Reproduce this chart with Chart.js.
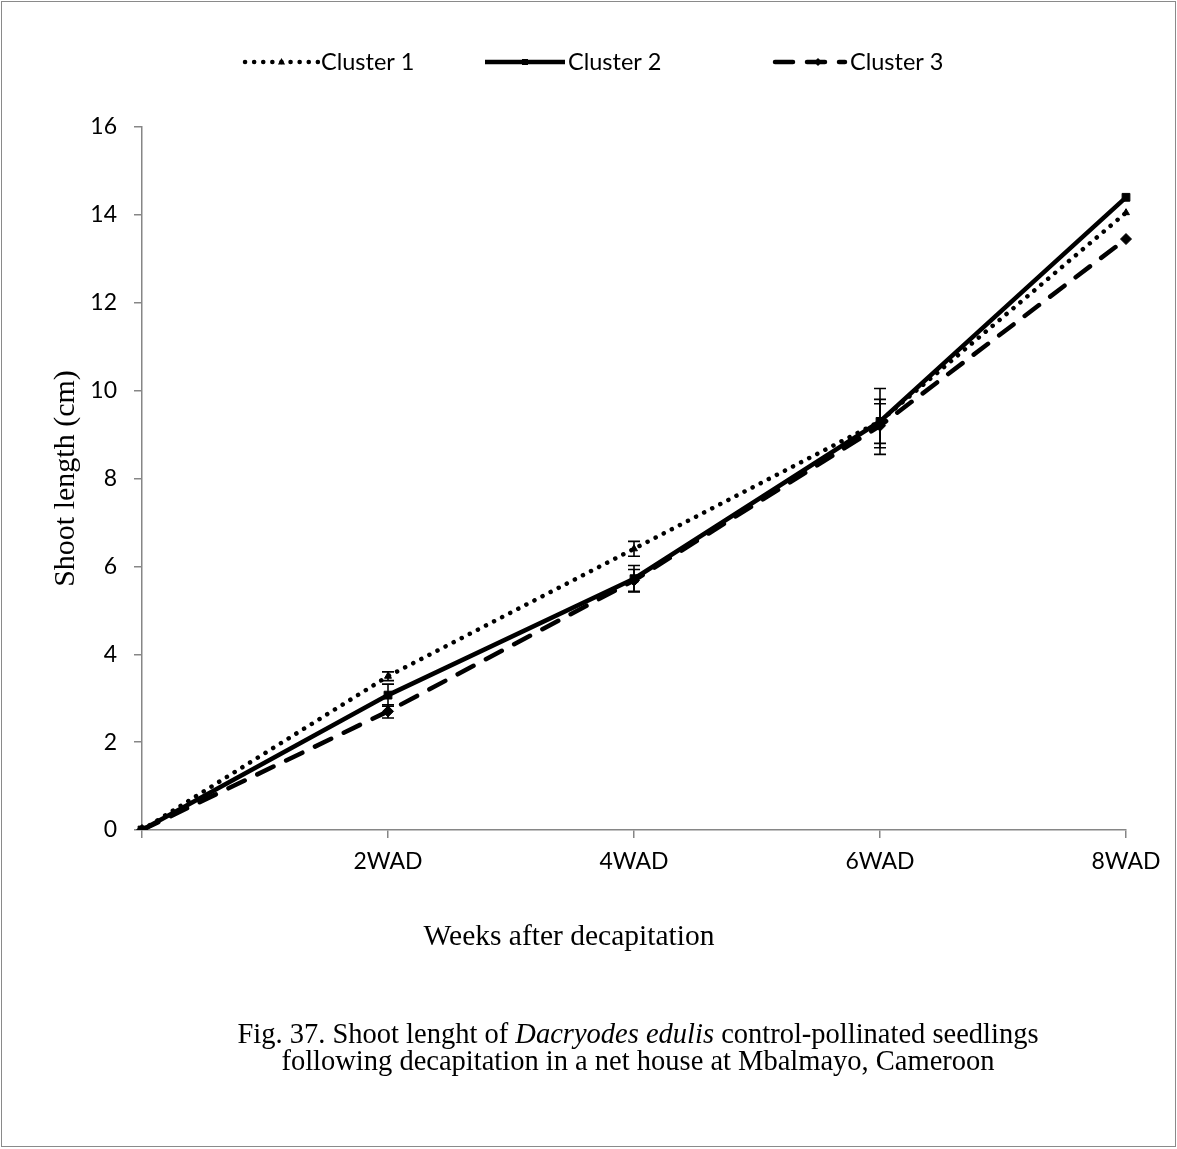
<!DOCTYPE html>
<html>
<head>
<meta charset="utf-8">
<script src="https://cdn.jsdelivr.net/npm/chart.js@4.4.1/dist/chart.umd.min.js"></script>
<style>
html,body{margin:0;padding:0;background:#fff;}
#wrap{position:relative;width:1177px;height:1149px;overflow:hidden;background:#fff;}
#frame{position:absolute;left:1px;top:1px;width:1175px;height:1146px;border:1.5px solid #8a8a8a;box-sizing:border-box;pointer-events:none;}
canvas{position:absolute;left:0;top:0;}
.t{position:absolute;font-family:"Liberation Serif","Times New Roman",serif;color:#000;white-space:nowrap;}
</style>
</head>
<body>
<div id="wrap">
  <canvas id="c" width="1177" height="1149"></canvas>
  <div id="frame"></div>
  <div class="t" id="xtitle" style="left:0;width:1138px;top:918px;text-align:center;font-size:29.5px;line-height:34px;">Weeks after decapitation</div>
  <div class="t" id="caption" style="left:0;width:1276px;top:1020px;text-align:center;font-size:28.5px;line-height:27px;">Fig. 37. Shoot lenght of <i>Dacryodes edulis</i> control-pollinated seedlings<br>following decapitation in a net house at Mbalmayo, Cameroon</div>
</div>
<script>
// ---- Data ----
const categories = ['', '2WAD', '4WAD', '6WAD', '8WAD'];
const seriesNames = ['Cluster 1', 'Cluster 2', 'Cluster 3'];
const cluster1 = [0, 3.5, 6.4, 9.3, 14.05];
const cluster2 = [0, 3.07, 5.72, 9.3, 14.4];
const cluster3 = [0, 2.7, 5.68, 9.2, 13.45];
const cluster1Err = [0, 0.1, 0.17, 0.75, 0];
const cluster2Err = [0, 0.25, 0.3, 0.5, 0];
const cluster3Err = [0, 0.15, 0.25, 0.5, 0];
const yTickValues = [0, 2, 4, 6, 8, 10, 12, 14, 16];
const axisTitleY = 'Shoot length (cm)';

const AXIS_GRAY = '#868686';
const TICK_FONT = {family: 'Lato, "Open Sans", sans-serif', size: 23};

// error bars drawn through the chart scales
const errorBars = {
  id: 'errorBars',
  afterDatasetsDraw(chart) {
    const {ctx, scales: {x, y}} = chart;
    ctx.save();
    ctx.strokeStyle = '#000';
    ctx.lineWidth = 1.6;
    chart.data.datasets.forEach(ds => {
      const errs = ds.errors || [];
      ds.data.forEach((v, j) => {
        const e = errs[j];
        if (!e) return;
        const px = x.getPixelForValue(j);
        const top = y.getPixelForValue(v + e);
        const bot = y.getPixelForValue(v - e);
        ctx.beginPath();
        ctx.moveTo(px, top); ctx.lineTo(px, bot);
        ctx.moveTo(px - 6, top); ctx.lineTo(px + 6, top);
        ctx.moveTo(px - 6, bot); ctx.lineTo(px + 6, bot);
        ctx.stroke();
      });
    });
    ctx.restore();
  }
};

function marker(ctx, style, cx, cy, r) {
  ctx.beginPath();
  if (style === 'triangle') {
    ctx.moveTo(cx, cy - r);
    ctx.lineTo(cx + r * 0.9, cy + r * 0.6);
    ctx.lineTo(cx - r * 0.9, cy + r * 0.6);
  } else if (style === 'rect') {
    ctx.rect(cx - r, cy - r, 2 * r, 2 * r);
  } else {
    ctx.moveTo(cx, cy - r); ctx.lineTo(cx + r, cy); ctx.lineTo(cx, cy + r); ctx.lineTo(cx - r, cy);
  }
  ctx.closePath();
  ctx.fill();
}

// legend drawn as line samples + text
const sampleLegend = {
  id: 'sampleLegend',
  afterDraw(chart) {
    const ctx = chart.ctx;
    const y0 = 62;
    const items = [
      {x0: 245, x1: 318, text: 321, ds: 0},
      {x0: 485, x1: 565, text: 568, ds: 1},
      {x0: 775, x1: 845, text: 850, ds: 2}
    ];
    ctx.save();
    items.forEach(it => {
      const ds = chart.data.datasets[it.ds];
      ctx.strokeStyle = '#000';
      ctx.fillStyle = '#000';
      ctx.lineWidth = ds.borderWidth;
      ctx.lineCap = ds.borderCapStyle || 'butt';
      ctx.setLineDash(ds.borderDash || []);
      ctx.beginPath();
      ctx.moveTo(it.x0, y0); ctx.lineTo(it.x1, y0);
      ctx.stroke();
      ctx.setLineDash([]);
      const mx = it.ds === 2 ? 818 : (it.x0 + it.x1) / 2;
      marker(ctx, ds.pointStyle, mx, y0, it.ds === 1 ? 3 : 4);
      ctx.font = '23.5px Lato, "Open Sans", sans-serif';
      ctx.textBaseline = 'middle';
      ctx.textAlign = 'left';
      ctx.fillText(ds.label, it.text, y0);
    });
    ctx.restore();
  }
};

new Chart(document.getElementById('c'), {
  type: 'line',
  data: {
    labels: categories,
    datasets: [
      {label: seriesNames[0], data: cluster1, errors: cluster1Err, borderColor: '#000', backgroundColor: '#000',
       borderWidth: 4.5, borderDash: [0.1, 9], borderCapStyle: 'round', pointStyle: 'triangle', pointRadius: 4,
       pointBorderWidth: 1, tension: 0},
      {label: seriesNames[1], data: cluster2, errors: cluster2Err, borderColor: '#000', backgroundColor: '#000',
       borderWidth: 4.5, pointStyle: 'rect', pointRadius: 5.5, pointBorderWidth: 1, tension: 0},
      {label: seriesNames[2], data: cluster3, errors: cluster3Err, borderColor: '#000', backgroundColor: '#000',
       borderWidth: 4.5, borderDash: [18, 14], borderCapStyle: 'round', pointStyle: 'rectRot', pointRadius: 5.5,
       pointBorderWidth: 1, tension: 0}
    ]
  },
  options: {
    responsive: false,
    animation: false,
    layout: {padding: {left: 0, top: 127, right: 51, bottom: 259}},
    plugins: {legend: {display: false}, tooltip: {enabled: false}, title: {display: false}},
    scales: {
      x: {
        type: 'category',
        offset: false,
        afterFit: s => { s.height = 60; },
        grid: {display: true, drawOnChartArea: false, drawTicks: true, tickLength: 8, color: AXIS_GRAY, lineWidth: 1.5},
        border: {display: true, color: AXIS_GRAY, width: 1.5},
        ticks: {font: TICK_FONT, color: '#000', padding: 10, maxRotation: 0, autoSkip: false}
      },
      y: {
        min: 0, max: 16,
        afterFit: s => { s.width = 142; },
        afterBuildTicks: s => { s.ticks = yTickValues.map(v => ({value: v})); },
        grid: {display: true, drawOnChartArea: false, drawTicks: true, tickLength: 8, color: AXIS_GRAY, lineWidth: 1.5},
        border: {display: true, color: AXIS_GRAY, width: 1.5},
        ticks: {font: TICK_FONT, color: '#000', padding: 17},
        title: {display: true, text: axisTitleY, color: '#000',
                font: {family: '"Liberation Serif", "Times New Roman", serif', size: 30},
                padding: {top: 48, bottom: 0}}
      }
    }
  },
  plugins: [errorBars, sampleLegend]
});
</script>
</body>
</html>
